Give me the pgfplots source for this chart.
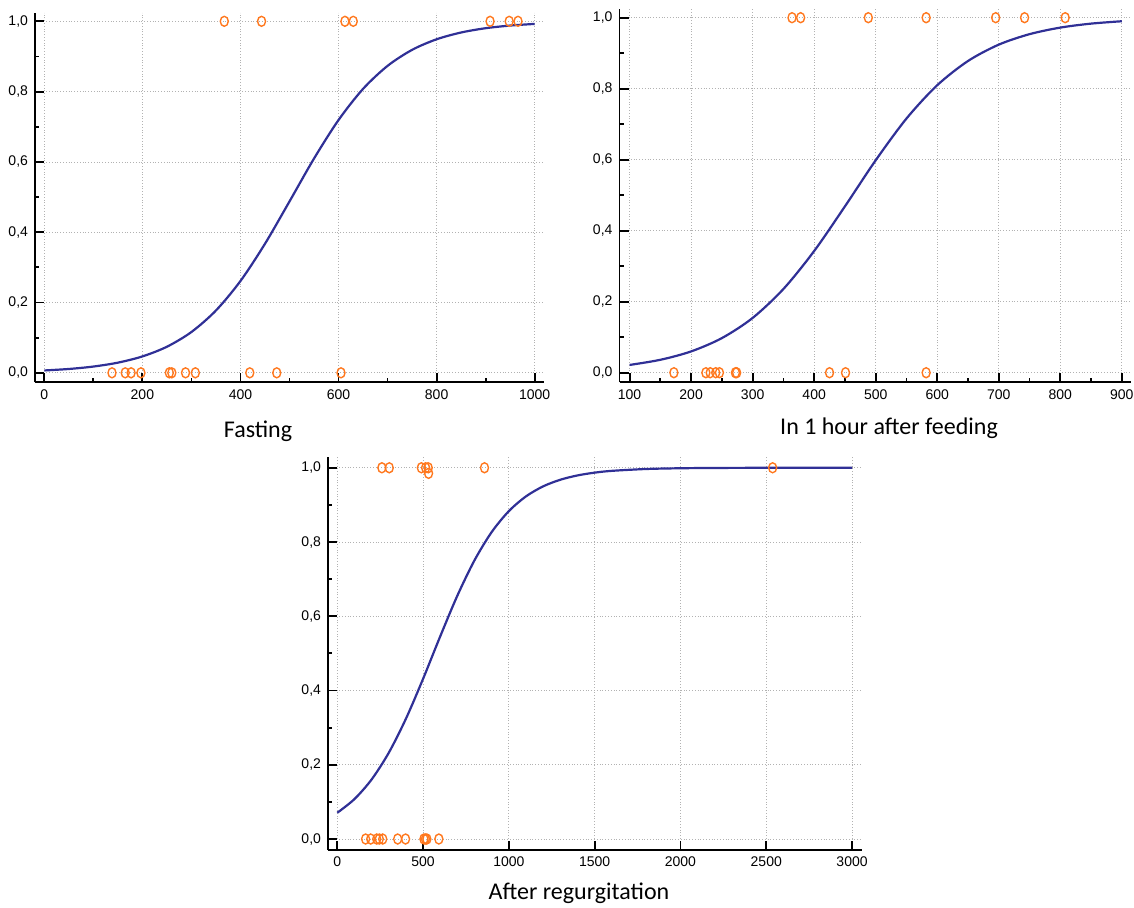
\documentclass[border=0pt]{standalone}
\usepackage{pgfplots}
\pgfplotsset{compat=1.18}
\usepackage{fontspec}
\setmainfont{Liberation Sans}
\newfontfamily\cali{Carlito}

\definecolor{fitblue}{RGB}{48,48,150}
\definecolor{ptorange}{RGB}{255,120,30}

\pgfplotsset{
  panel/.style={
    scale only axis, anchor=south west,
    axis x line=bottom, axis y line=left,
    axis line style={-, line width=0.9pt},
    tick align=inside,
    major tick length=4.7pt, minor tick length=2.2pt,
    tick style={black, line width=0.9pt},
    ytick={0,0.2,0.4,0.6,0.8,1}, minor y tick num=1,
    grid=major,
    grid style={densely dotted, gray!60, line width=0.4pt},
    tick label style={font=\fontsize{7}{8}\selectfont},
    /pgf/number format/assume math mode=true,
    yticklabel style={/pgf/number format/.cd, use comma, fixed, fixed zerofill, precision=1},
    xticklabel style={/pgf/number format/1000 sep={}},
    clip=false,
  },
  fit/.style={fitblue, line width=1.1pt, smooth},
  pts/.style={only marks, mark=o, mark size=2pt, ptorange,
    mark options={yscale=1.25, line width=0.7pt, solid}},
}

\begin{document}
\begin{tikzpicture}
\path[use as bounding box] (0,0) rectangle (567pt,453.5pt);

% Fasting
\begin{axis}[panel, at={(17.5pt,262.35pt)}, width=254.5pt, height=184.8pt,
  xmin=-19, xmax=1019, ymin=-0.027, ymax=1.0245,
  xtick={0,200,400,600,800,1000}, minor x tick num=1]
\addplot[fit] coordinates {
 (0,0.0067) (50,0.0109) (100,0.0178) (150,0.0289) (200,0.0466) (250,0.0742)
 (300,0.1161) (350,0.1773) (400,0.2612) (450,0.3671) (500,0.4876) (550,0.6096)
 (600,0.7192) (650,0.8078) (700,0.8733) (750,0.9188) (800,0.9489) (850,0.9682)
 (900,0.9804) (950,0.9879) (1000,0.9926)};
\addplot[pts] coordinates {
 (367,1) (443,1) (613,1) (630,1) (909,1) (948,1) (966,1)
 (138,0) (165,0) (177,0) (197,0) (255,0) (260,0) (288,0) (308,0) (419,0) (474,0) (605,0)};
\end{axis}

% In 1 hour after feeding
\begin{axis}[panel, at={(309.75pt,262.35pt)}, width=255.75pt, height=186.65pt,
  xmin=83.6, xmax=915, ymin=-0.027, ymax=1.0245,
  xtick={100,200,...,900}, minor x tick num=1]
\addplot[fit] coordinates {
 (100,0.0219) (150,0.0364) (200,0.0600) (250,0.0975) (300,0.1543) (350,0.2358)
 (400,0.3428) (450,0.4686) (500,0.5984) (550,0.7159) (600,0.8098) (650,0.8780)
 (700,0.9241) (750,0.9536) (800,0.9721) (850,0.9833) (900,0.9900)};
\addplot[pts] coordinates {
 (364,1) (378,1) (488,1) (582,1) (695,1) (742,1) (808,1)
 (172,0) (224,0) (231,0) (240,0) (246,0) (272,0) (274,0) (425,0) (451,0) (582,0)};
\end{axis}

% After regurgitation
\begin{axis}[panel, at={(164pt,28.5pt)}, width=267pt, height=196.5pt,
  xmin=-54, xmax=3058, ymin=-0.0296, ymax=1.029,
  xtick={0,500,...,3000}]
\addplot[fit] coordinates {
 (0,0.0707) (100,0.1075) (200,0.1603) (300,0.2322) (400,0.3239) (500,0.4314)
 (600,0.5459) (700,0.6557) (800,0.7510) (900,0.8269) (1000,0.8833) (1100,0.9230)
 (1200,0.9500) (1300,0.9678) (1400,0.9794) (1500,0.9869) (1600,0.9917)
 (1800,0.9967) (2000,0.9987) (2200,0.9995) (2500,0.9999) (3000,1.0000)};
\addplot[pts] coordinates {
 (260,1) (303,1) (490,1) (515,1) (530,1) (532,0.985) (858,1) (2537,1)
 (165,0) (195,0) (230,0) (245,0) (265,0) (352,0) (398,0) (505,0) (514,0) (522,0) (592,0)};
\end{axis}

\node[font=\cali\fontsize{12}{14}\selectfont] at (129pt,238pt) {Fasting};
\node[font=\cali\fontsize{12}{14}\selectfont] at (444.5pt,239.5pt) {In 1 hour after feeding};
\node[font=\cali\fontsize{12}{14}\selectfont] at (289.5pt,7pt) {After regurgitation};
\end{tikzpicture}
\end{document}
